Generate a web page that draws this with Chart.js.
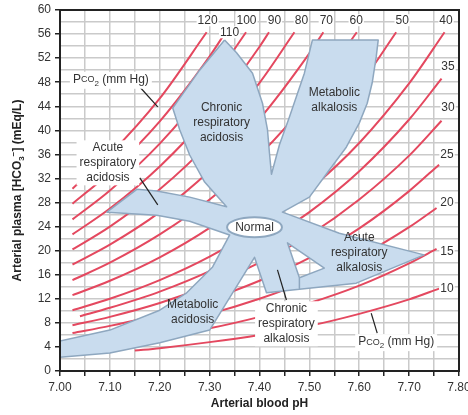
<!DOCTYPE html>
<html>
<head>
<meta charset="utf-8">
<script src="https://cdn.jsdelivr.net/npm/chart.js@4.4.1/dist/chart.umd.min.js"></script>
<style>
  body { margin: 0; background: #fff; }
</style>
</head>
<body>
<canvas id="myChart" width="468" height="415"></canvas>
<script>
var pco2Levels = [120, 110, 100, 90, 80, 70, 60, 50, 40, 35, 30, 25, 20, 15, 10];
var isoplethPH = [
  [7.025, 7.1, 7.2, 7.294],
  [7.025, 7.1, 7.2, 7.3, 7.332],
  [7.025, 7.1, 7.2, 7.3, 7.373],
  [7.025, 7.1, 7.2, 7.3, 7.4, 7.419],
  [7.025, 7.1, 7.2, 7.3, 7.4, 7.47],
  [7.025, 7.1, 7.2, 7.3, 7.4, 7.5, 7.528],
  [7.025, 7.1, 7.2, 7.3, 7.4, 7.5, 7.595],
  [7.025, 7.1, 7.2, 7.3, 7.4, 7.5, 7.6, 7.674],
  [7.025, 7.1, 7.2, 7.3, 7.4, 7.5, 7.6, 7.7, 7.771],
  [7.04, 7.1, 7.2, 7.3, 7.4, 7.5, 7.6, 7.7, 7.765],
  [7.025, 7.1, 7.2, 7.3, 7.4, 7.5, 7.6, 7.7, 7.765],
  [7.025, 7.1, 7.2, 7.3, 7.4, 7.5, 7.6, 7.7, 7.76],
  [7.025, 7.1, 7.2, 7.3, 7.4, 7.5, 7.6, 7.7, 7.755],
  [7.025, 7.1, 7.2, 7.3, 7.4, 7.5, 7.6, 7.7, 7.755],
  [7.15, 7.2, 7.3, 7.4, 7.5, 7.6, 7.7, 7.76]
];
var isoplethHCO3 = [
  [30.3, 36.0, 45.3, 56.3],
  [27.8, 33.0, 41.5, 52.3, 56.3],
  [25.2, 30.0, 37.8, 47.6, 56.3],
  [22.7, 27.0, 34.0, 42.8, 53.9, 56.3],
  [20.2, 24.0, 30.2, 38.0, 47.9, 56.3],
  [17.7, 21.0, 26.4, 33.3, 41.9, 52.8, 56.3],
  [15.1, 18.0, 22.7, 28.5, 35.9, 45.2, 56.3],
  [12.6, 15.0, 18.9, 23.8, 29.9, 37.7, 47.4, 56.3],
  [10.1, 12.0, 15.1, 19.0, 23.9, 30.1, 37.9, 47.8, 56.3],
  [9.1, 10.5, 13.2, 16.6, 20.9, 26.4, 33.2, 41.8, 48.6],
  [7.6, 9.0, 11.3, 14.3, 18.0, 22.6, 28.5, 35.8, 41.6],
  [6.3, 7.5, 9.4, 11.9, 15.0, 18.8, 23.7, 29.9, 34.3],
  [5.0, 6.0, 7.6, 9.5, 12.0, 15.1, 19.0, 23.9, 27.1],
  [3.8, 4.5, 5.7, 7.1, 9.0, 11.3, 14.2, 17.9, 20.3],
  [3.4, 3.8, 4.8, 6.0, 7.5, 9.5, 11.9, 13.7]
];

// outline of the shaded bands, one path; the little loop on the lower edge
// goes round the white gap between the two alkalosis bands
var bandPH = [7.330, 7.354, 7.386, 7.406, 7.416, 7.420, 7.424, 7.440, 7.460, 7.490,
  7.506, 7.638, 7.634, 7.626, 7.616, 7.600, 7.574, 7.540, 7.500, 7.446,
  7.560, 7.730, 7.594, 7.480, 7.480, 7.530, 7.456, 7.480, 7.480, 7.414,
  7.390, 7.300, 7.200, 7.100, 6.990, 6.990, 7.100, 7.200, 7.254, 7.306,
  7.340, 7.260, 7.194, 7.094, 7.154, 7.194, 7.260, 7.334, 7.290, 7.260,
  7.240, 7.226, 7.280, 7.330];
var bandHCO3 = [55.0, 52.9, 49.5, 44.5, 40.1, 36.2, 32.7, 37.6, 42.2, 49.5,
  55.0, 55.0, 52.2, 47.9, 44.5, 41.2, 37.2, 33.4, 28.9, 26.4,
  22.9, 19.3, 14.6, 13.6, 15.5, 17.1, 21.3, 15.5, 13.6, 13.0,
  18.9, 6.8, 4.7, 3.0, 2.2, 4.8, 6.8, 10.1, 13.0, 17.3,
  22.6, 24.9, 25.9, 26.4, 30.2, 29.9, 28.9, 27.3, 31.4, 35.9,
  40.1, 43.7, 50.0, 55.0];

// axis tick labels
var phTickLabels = ["7.00", "7.10", "7.20", "7.30", "7.40", "7.50", "7.60", "7.70", "7.80"];
var hco3TickLabels = ["0", "4", "8", "12", "16", "20", "24", "28", "32", "36", "40", "44", "48", "52", "56", "60"];

var FONT = '"Liberation Sans", Arial, sans-serif';
var TEXT = "#333";

function drawRuns(ctx, runs, cx, cy) {
  var total = 0;
  runs.forEach(function (r) {
    ctx.font = r.font;
    r.w = ctx.measureText(r.t).width;
    total += r.w;
  });
  var x = cx - total / 2;
  runs.forEach(function (r) {
    ctx.font = r.font;
    ctx.fillText(r.t, x, cy + (r.dy || 0));
    x += r.w;
  });
  return total;
}

function textBlock(ctx, lines, cx, cy, bg) {
  var lh = 15;
  ctx.font = "12px " + FONT;
  ctx.textAlign = "center";
  ctx.textBaseline = "middle";
  var top = cy - (lines.length - 1) * lh / 2;
  if (bg) {
    var w = 0;
    lines.forEach(function (l) { w = Math.max(w, ctx.measureText(l).width); });
    ctx.fillStyle = "#fff";
    ctx.fillRect(cx - w / 2 - 3, top - lh / 2, w + 6, lines.length * lh);
  }
  ctx.fillStyle = TEXT;
  lines.forEach(function (l, i) { ctx.fillText(l, cx, top + i * lh); });
}

function pco2Label(ctx, cx, cy) {
  var runs = [
    { t: "P", font: "12px " + FONT },
    { t: "CO", font: "9px " + FONT },
    { t: "2", font: "8px " + FONT, dy: 4 },
    { t: " (mm Hg)", font: "12px " + FONT }
  ];
  ctx.textAlign = "left";
  ctx.textBaseline = "middle";
  var w = 0;
  runs.forEach(function (r) { ctx.font = r.font; w += ctx.measureText(r.t).width; });
  ctx.fillStyle = "#fff";
  ctx.fillRect(cx - w / 2 - 3, cy - 8, w + 6, 17);
  ctx.fillStyle = TEXT;
  drawRuns(ctx, runs, cx, cy);
}

var overlay = {
  id: "overlay",
  afterDatasetsDraw: function (chart) {
    var ctx = chart.ctx, a = chart.chartArea;
    var x = chart.scales.x, y = chart.scales.y;
    function px(v) { return x.getPixelForValue(v); }
    function py(v) { return y.getPixelForValue(v); }
    ctx.save();

    // normal ellipse
    ctx.beginPath();
    ctx.ellipse(px(7.39), py(23.9), px(7.445) - px(7.39), py(22.25) - py(23.9), 0, 0, Math.PI * 2);
    ctx.fillStyle = "#fff";
    ctx.fill();
    ctx.lineWidth = 2;
    ctx.strokeStyle = "#8ea7bf";
    ctx.stroke();

    // pointer lines
    var pointers = [
      [7.16, 47.2, 7.196, 43.9],
      [7.16, 32.1, 7.196, 27.6],
      [7.436, 16.8, 7.454, 11.8],
      [7.624, 9.6, 7.636, 6.3]
    ];
    ctx.strokeStyle = "#222";
    ctx.lineWidth = 1.2;
    pointers.forEach(function (p) {
      ctx.beginPath();
      ctx.moveTo(px(p[0]), py(p[1]));
      ctx.lineTo(px(p[2]), py(p[3]));
      ctx.stroke();
    });

    // region labels
    textBlock(ctx, ["Normal"], px(7.39), py(23.9), false);
    textBlock(ctx, ["Acute", "respiratory", "acidosis"], px(7.096), py(34.6), true);
    textBlock(ctx, ["Chronic", "respiratory", "acidosis"], px(7.324), py(41.2), false);
    textBlock(ctx, ["Metabolic", "alkalosis"], px(7.55), py(45.05), false);
    textBlock(ctx, ["Acute", "respiratory", "alkalosis"], px(7.60), py(19.6), false);
    textBlock(ctx, ["Metabolic", "acidosis"], px(7.266), py(9.75), false);
    textBlock(ctx, ["Chronic", "respiratory", "alkalosis"], px(7.454), py(7.85), true);
    pco2Label(ctx, px(7.102), py(48.4));
    pco2Label(ctx, px(7.674), py(4.8));

    // isopleth numbers
    var numPos = {
      120: [7.296, 58.3], 110: [7.34, 56.3], 100: [7.374, 58.3], 90: [7.43, 58.3],
      80: [7.484, 58.3], 70: [7.534, 58.3], 60: [7.594, 58.3], 50: [7.686, 58.3],
      40: [7.774, 58.3], 35: [7.778, 50.5], 30: [7.778, 43.7], 25: [7.776, 35.9],
      20: [7.776, 27.9], 15: [7.776, 19.8], 10: [7.776, 13.6]
    };
    ctx.font = "12px " + FONT;
    ctx.textAlign = "center";
    ctx.textBaseline = "middle";
    pco2Levels.forEach(function (p) {
      var pos = numPos[p];
      var s = String(p);
      var w = ctx.measureText(s).width;
      ctx.fillStyle = "#fff";
      ctx.fillRect(px(pos[0]) - w / 2 - 1, py(pos[1]) - 6, w + 2, 12);
      ctx.fillStyle = TEXT;
      ctx.fillText(s, px(pos[0]), py(pos[1]));
    });

    // frame
    ctx.strokeStyle = "#222";
    ctx.lineWidth = 2;
    ctx.strokeRect(a.left, a.top, a.right - a.left, a.bottom - a.top);

    // axis titles
    ctx.fillStyle = "#222";
    ctx.textBaseline = "middle";
    ctx.textAlign = "left";
    drawRuns(ctx, [{ t: "Arterial blood pH", font: "bold 12px " + FONT }], (a.left + a.right) / 2, 404);
    ctx.save();
    ctx.translate(18, (a.top + a.bottom) / 2);
    ctx.rotate(-Math.PI / 2);
    drawRuns(ctx, [
      { t: "Arterial plasma [HCO", font: "bold 12px " + FONT },
      { t: "3", font: "bold 8px " + FONT, dy: 4 },
      { t: "\u2212", font: "bold 8px " + FONT, dy: -4 },
      { t: "] (mEq/L)", font: "bold 12px " + FONT }
    ], 0, 0);
    ctx.restore();

    ctx.restore();
  }
};

var datasets = [];
datasets.push({
  data: bandPH.map(function (v, i) { return { x: v, y: bandHCO3[i] }; }),
  showLine: true,
  fill: "shape",
  backgroundColor: "#c9dcee",
  borderColor: "#8ea7bf",
  borderWidth: 1.5,
  borderJoinStyle: "round",
  pointRadius: 0,
  tension: 0,
  order: 1
});
pco2Levels.forEach(function (p, i) {
  datasets.push({
    label: "PCO2 " + p,
    data: isoplethPH[i].map(function (v, j) { return { x: v, y: isoplethHCO3[i][j] }; }),
    showLine: true,
    fill: false,
    borderColor: "#e4485f",
    borderWidth: 2,
    pointRadius: 0,
    cubicInterpolationMode: "monotone",
    order: 2
  });
});

function tickLabel(list, value, digits) {
  var s = value.toFixed(digits);
  return list.indexOf(s) >= 0 ? s : "";
}

var ctx = document.getElementById("myChart");
var myChart = new Chart(ctx, {
  type: "scatter",
  data: { datasets: datasets },
  plugins: [overlay],
  options: {
    responsive: false,
    animation: false,
    devicePixelRatio: 1,
    layout: { padding: { left: 0, right: 9, top: 10, bottom: 0 } },
    plugins: { legend: { display: false }, tooltip: { enabled: false } },
    scales: {
      x: {
        type: "linear",
        min: 7.0,
        max: 7.8,
        afterFit: function (s) { s.height = 44; s.paddingLeft = 0; s.paddingRight = 0; },
        ticks: {
          stepSize: 0.05,
          autoSkip: false,
          maxRotation: 0,
          maxTicksLimit: 100,
          padding: 4,
          color: TEXT,
          font: { family: FONT, size: 12 },
          callback: function (v) { return tickLabel(phTickLabels, v, 2); }
        },
        grid: { color: "#cacaca", lineWidth: 1.5, tickLength: 5, tickColor: "#222", tickWidth: 1.5 },
        border: { display: true, color: "#222", width: 2 }
      },
      y: {
        type: "linear",
        min: 0,
        max: 60,
        afterFit: function (s) { s.width = 60; s.paddingTop = 0; s.paddingBottom = 0; },
        ticks: {
          stepSize: 2,
          autoSkip: false,
          maxTicksLimit: 100,
          padding: 4,
          color: TEXT,
          font: { family: FONT, size: 12 },
          callback: function (v) { return tickLabel(hco3TickLabels, v, 0); }
        },
        grid: {
          color: "#cacaca",
          lineWidth: 1.5,
          tickLength: 5,
          tickWidth: 1.5,
          tickColor: function (c) { return c.tick && c.tick.value % 4 === 0 ? "#222" : "rgba(0,0,0,0)"; }
        },
        border: { display: true, color: "#222", width: 2 }
      }
    }
  }
});
</script>
</body>
</html>
